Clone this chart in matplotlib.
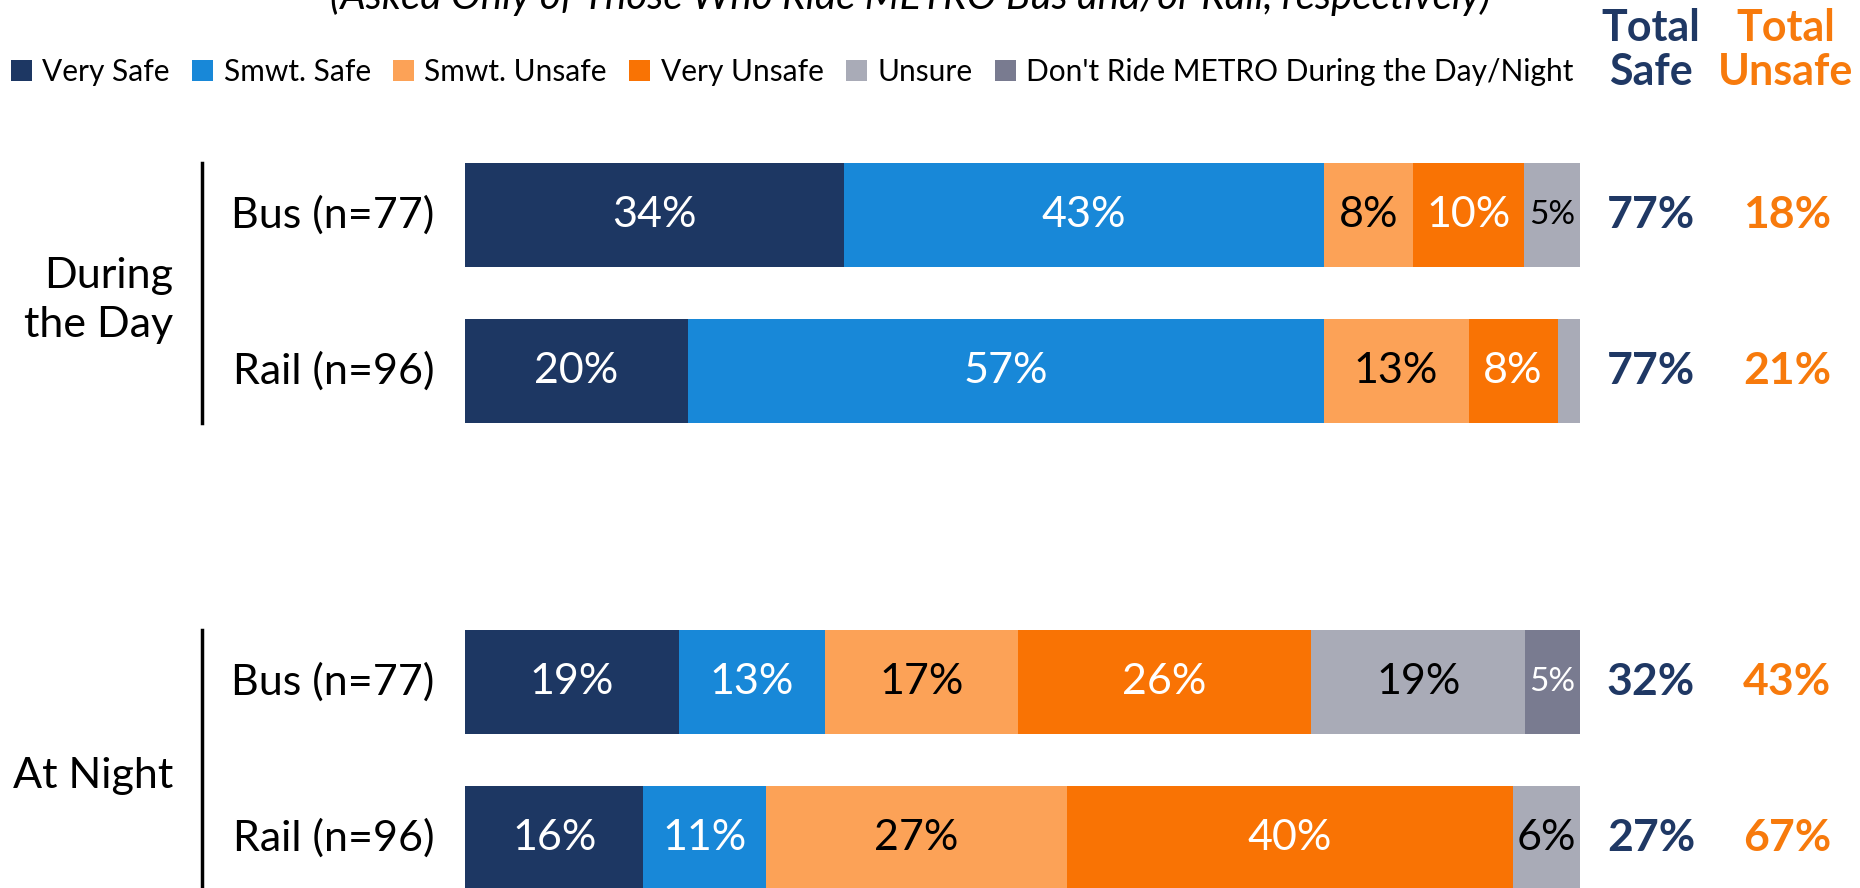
import matplotlib
matplotlib.use("Agg")
import matplotlib.pyplot as plt
import matplotlib.transforms as mtransforms
from matplotlib.lines import Line2D

plt.rcParams['font.family'] = ['Lato', 'DejaVu Sans']

# ---------------- data ----------------
rows = ["Bus (n=77)", "Rail (n=96)", "Bus (n=77)", "Rail (n=96)"]
groups = ["During\nthe Day", "At Night"]
series_names = ["Very Safe", "Smwt. Safe", "Smwt. Unsafe", "Very Unsafe",
                "Unsure", "Don't Ride METRO During the Day/Night"]
very_safe = [34, 20, 19.2, 16]
smwt_safe = [43, 57, 13.1, 11]
smwt_unsafe = [8, 13, 17.3, 27]
very_unsafe = [10, 8, 26.3, 40]
unsure = [5, 2, 19.2, 6]
dont_ride = [0, 0, 4.9, 0]
total_safe = ["77%", "77%", "32%", "27%"]
total_unsafe = ["18%", "21%", "43%", "67%"]
title = "(Asked Only of Those Who Ride METRO Bus and/or Rail, respectively)"

colors = ["#1D3763", "#1888D8", "#FCA257", "#F97304", "#A9ABB7", "#797B90"]
label_colors = ["white", "white", "black", "white", "black", "white"]
safe_color = "#1F3864"
unsafe_color = "#F77A0C"

W, H = 1860, 888
fig = plt.figure(figsize=(W / 100, H / 100), dpi=100)

unit = 155.75
y0px = 215
ypos = [0, 1, 3, 4]
ax = fig.add_axes([465 / W, 0, 1115 / W, 1])
ax.set_xlim(0, 100)
ax.set_ylim((H - y0px) / unit, -y0px / unit)
ax.axis("off")

bar_h = 104 / unit
series = [very_safe, smwt_safe, smwt_unsafe, very_unsafe, unsure, dont_ride]
left = [0] * 4
handles = []
for s, vals in enumerate(series):
    bc = ax.barh(ypos, vals, left=left, height=bar_h, color=colors[s],
                 label=series_names[s], linewidth=0)
    handles.append(bc)
    for i, v in enumerate(vals):
        if v >= 4.5:
            fs = 24 if v < 5.5 else 31
            ax.text(left[i] + v / 2, ypos[i], f"{round(v)}%", ha="center", va="center",
                    color=label_colors[s], fontsize=fs)
    left = [l + v for l, v in zip(left, vals)]

bt = mtransforms.blended_transform_factory(fig.transFigure, ax.transData)

# row labels
for i, r in enumerate(rows):
    ax.text(434 / W, ypos[i], r, transform=bt, ha="right", va="center",
            fontsize=31, clip_on=False)

# group labels
ax.text(173 / W, 0.55, groups[0], transform=bt, ha="right", va="center",
        fontsize=31, linespacing=1.35, clip_on=False)
ax.text(173 / W, 3.60, groups[1], transform=bt, ha="right", va="center",
        fontsize=31, clip_on=False)

# group separator lines
for a, b in [(0, 1), (3, 4)]:
    ln = Line2D([202 / W, 202 / W], [a - bar_h / 2, b + bar_h / 2], transform=bt,
                color="black", linewidth=2.5, clip_on=False)
    fig.add_artist(ln)

# totals
for i in range(4):
    ax.text(1651 / W, ypos[i], total_safe[i], transform=bt, ha="center", va="center",
            fontsize=32, fontweight="bold", color=safe_color, clip_on=False)
    ax.text(1787 / W, ypos[i], total_unsafe[i], transform=bt, ha="center", va="center",
            fontsize=32, fontweight="bold", color=unsafe_color, clip_on=False)

fig.text(1651 / W, 1 - 50 / H, "Total\nSafe", ha="center", va="center",
         fontsize=31, fontweight="bold", color=safe_color, linespacing=1.12)
fig.text(1786 / W, 1 - 50 / H, "Total\nUnsafe", ha="center", va="center",
         fontsize=31, fontweight="bold", color=unsafe_color, linespacing=1.12)

# title (cut off at top)
fig.text(910 / W, 1 - 9 / H, title, ha="center", va="baseline", fontsize=29,
         style="italic")

# legend
leg = fig.legend(handles=handles, labels=series_names, loc="center left",
                 bbox_to_anchor=(2 / W, 1 - 72 / H), ncol=6, frameon=False,
                 fontsize=21.5, handlelength=0.7, handleheight=0.7,
                 handletextpad=0.35, columnspacing=0.75, borderaxespad=0,
                 borderpad=0.3)

fig.savefig("out.png", dpi=100)
